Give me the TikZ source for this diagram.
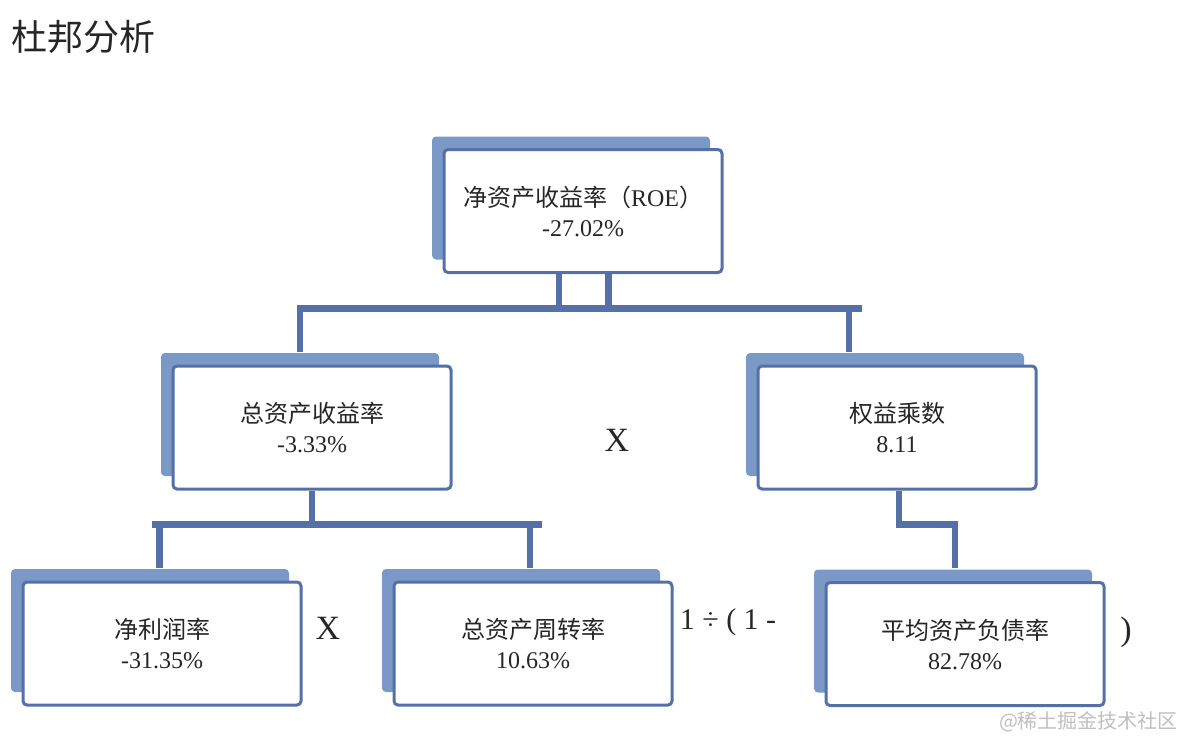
\documentclass[tikz,border=0pt]{standalone}
\usepackage{fontspec}
\setmainfont{Liberation Serif}
\newfontfamily\cjk{Noto Sans CJK SC}
\usetikzlibrary{shadows}
\definecolor{boxline}{RGB}{84,112,166}
\definecolor{boxshade}{RGB}{122,153,199}

\begin{document}
\begin{tikzpicture}[x=0.5pt,y=-0.5pt,
  box/.style={draw=boxline,line width=1.5pt,fill=white,rounded corners=2pt,minimum width=139pt,minimum height=61.5pt,align=center,text=black!85,font=\fontsize{12}{15}\selectfont,general shadow={fill=boxshade,shadow xshift=-6pt,shadow yshift=6.5pt}},
  link/.style={draw=boxline,line width=3.25pt},
  sign/.style={text=black!85,font=\fontsize{17}{17}\selectfont}]
\useasboundingbox (0,0) rectangle (1189,741);
\node[anchor=west,text=black!85,font=\cjk\fontsize{18}{18}\selectfont] (title) at (4,37){杜邦分析};
\node[box] (roe) at (583,211){{\cjk 净资产收益率（}ROE{\cjk ）}\\-27.02\%};
\node[box] (roa) at (312,427.5){{\cjk 总资产收益率}\\-3.33\%};
\node[box] (em) at (897,427.5){{\cjk 权益乘数}\\8.11};
\node[box] (npm) at (162,643.5){{\cjk 净利润率}\\-31.35\%};
\node[box] (tat) at (533,643.5){{\cjk 总资产周转率}\\10.63\%};
\node[box] (dar) at (965,644){{\cjk 平均资产负债率}\\82.78\%};
\node[sign] (x1) at (617,440){X};
\node[sign] (x2) at (328,628){X};
\node[sign,font=\fontsize{15}{15}\selectfont] (inv) at (728,622){1 ÷ ( 1 -};
\node[sign] (rp) at (1126,632){)};
\node[anchor=east,text=black!25,font=\cjk\fontsize{10}{10}\selectfont] (wm) at (1185,722){@稀土掘金技术社区};
\coordinate (t1) at (297,308.5);
\coordinate (t2) at (862,308.5);
\coordinate (b1) at (152,524.5);
\coordinate (b2) at (542,524.5);
\coordinate (r1) at (955,524.5);
\draw[link] (t1) -- (t2);
\draw[link] ([xshift=-12pt]roe.south) -- ([xshift=-12pt]roe.south |- t1);
\draw[link] ([xshift=12.75pt]roe.south) -- ([xshift=12.75pt]roe.south |- t1);
\draw[link] ([xshift=-6pt]roa.north |- t1) -- ([shift={(-6pt,6.5pt)}]roa.north);
\draw[link] ([xshift=-24pt]em.north |- t2) -- ([shift={(-24pt,6.5pt)}]em.north);
\draw[link] (b1) -- (b2);
\draw[link] (roa.south) -- (roa.south |- b1);
\draw[link] ([xshift=-1.25pt]npm.north |- b1) -- ([shift={(-1.25pt,6.5pt)}]npm.north);
\draw[link] ([xshift=-1.5pt]tat.north |- b2) -- ([shift={(-1.5pt,6.5pt)}]tat.north);
\draw[link] ([xshift=1pt]em.south) |- (r1) -- ([shift={(-5pt,6.5pt)}]dar.north);
\end{tikzpicture}
\end{document}
